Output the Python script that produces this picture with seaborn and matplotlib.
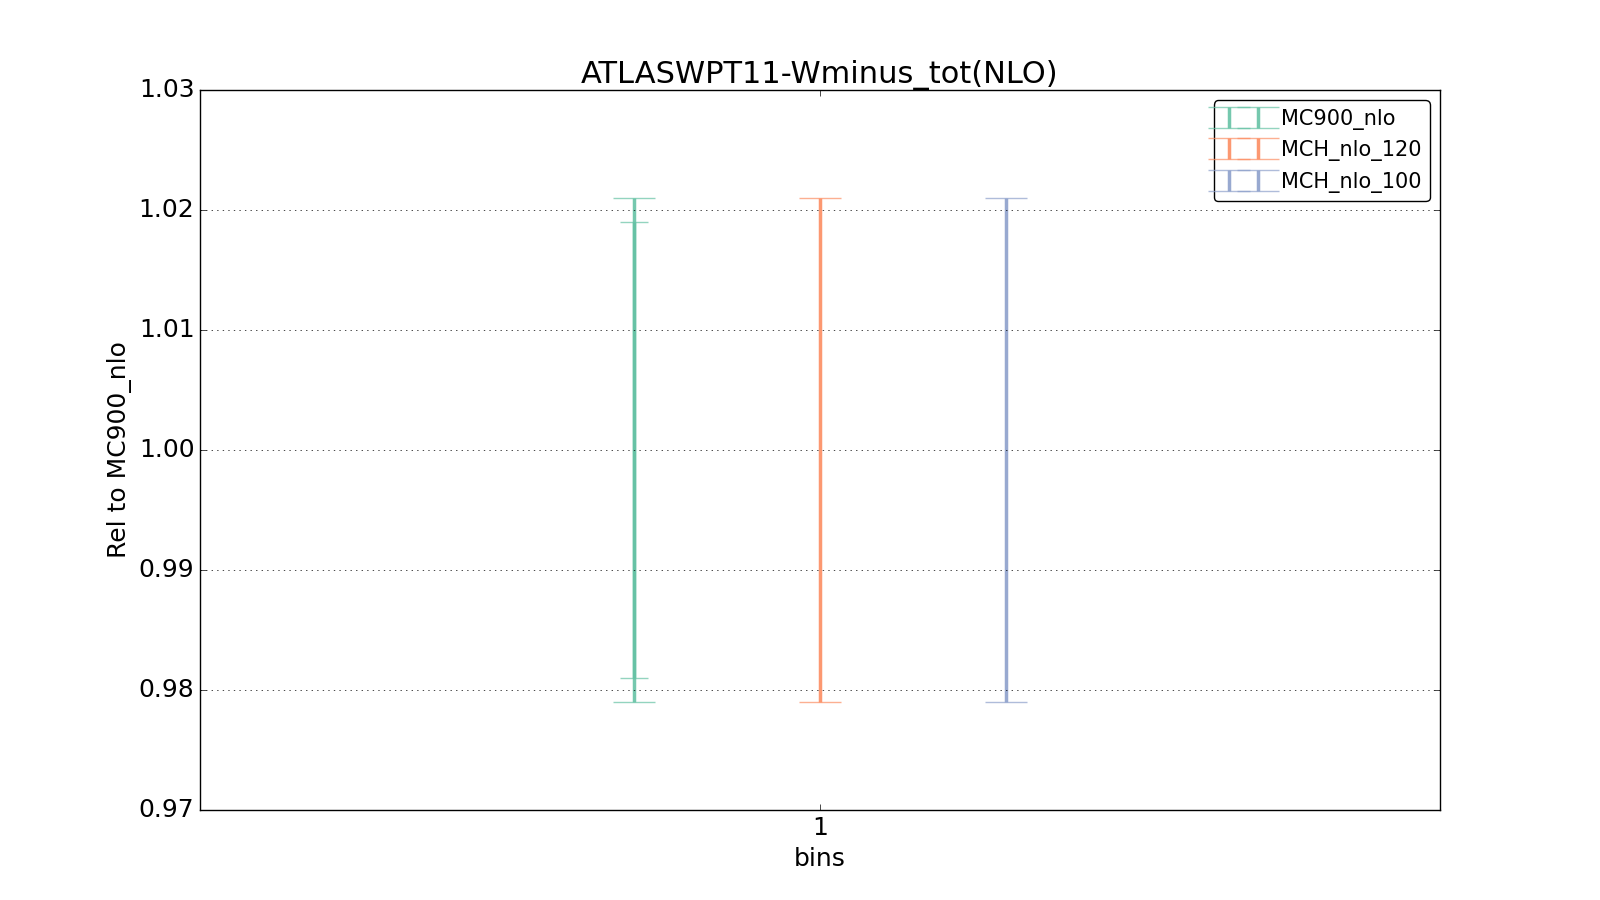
import numpy as np
import seaborn as sns
import matplotlib
matplotlib.use("Agg")
import matplotlib.pyplot as plt
from matplotlib.ticker import FormatStrFormatter

plt.style.use("classic")

# data
title = "ATLASWPT11-Wminus_tot(NLO)"
series = ["MC900_nlo", "MCH_nlo_120", "MCH_nlo_100"]
xpos = [0.7, 1.0, 1.3]
central = [1.0, 1.0, 1.0]
err_total = [0.021, 0.021, 0.021]
err_inner = [0.019, None, None]

colors = sns.color_palette("Set2", 3)

fig, ax = plt.subplots(figsize=(16, 9), dpi=100)

for name, x, c, et, ei, col in zip(series, xpos, central, err_total, err_inner, colors):
	eb = ax.errorbar([x], [c], yerr=[et], fmt="none", ecolor=col, elinewidth=2.5,
					 capsize=15, capthick=1, alpha=0.9, label=name)
	for cap in eb[1]:
		cap.set_alpha(0.7)
	if ei is not None:
		eb2 = ax.errorbar([x], [c], yerr=[ei], fmt="none", ecolor=col, elinewidth=2.5,
						  capsize=10, capthick=1, alpha=0.9)
		for cap in eb2[1]:
			cap.set_alpha(0.7)

ax.set_xlim(0, 2)
ax.set_ylim(0.97, 1.03)
ax.set_xticks([1])
ax.set_xticklabels(["1"])
ax.set_yticks(np.arange(0.97, 1.031, 0.01))
ax.yaxis.set_major_formatter(FormatStrFormatter("%.2f"))
ax.yaxis.grid(True, linestyle=":", color="black")
ax.tick_params(labelsize=18)
ax.set_xlabel("bins", fontsize=18)
ax.set_ylabel("Rel to MC900_nlo", fontsize=18)
ax.set_title(title, fontsize=22)
ax.legend(loc="upper right", fontsize=15, fancybox=True, numpoints=2, handlelength=2.0)

fig.savefig("out.png", dpi=100)
